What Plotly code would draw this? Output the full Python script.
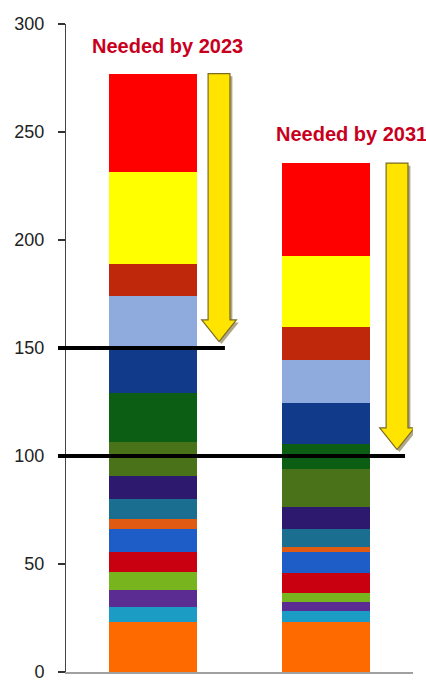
import plotly.graph_objects as go

# ---- data ----
categories = ["2023", "2031"]
segment_names = ["s1", "s2", "s3", "s4", "s5", "s6", "s7", "s8", "s9", "s10",
                 "s11", "s12", "s13", "s14", "s15", "s16"]
values_2023 = [23.3, 6.9, 7.8, 8.5, 9.1, 10.8, 4.3, 9.6, 10.3, 15.7,
               22.7, 21.0, 24.0, 15.1, 42.4, 45.5]
values_2031 = [23.3, 5.0, 4.2, 4.3, 9.0, 9.6, 2.3, 8.7, 10.2, 17.3,
               11.5, 19.3, 19.7, 15.4, 32.7, 43.1]
segment_colors = ["#ff6a00", "#1a9cc4", "#5b2c92", "#78b41e", "#c80010", "#1e5cc8",
                  "#e05a14", "#1a6f90", "#2d1a6e", "#4a7319", "#0b5e14", "#113a8a",
                  "#8faadc", "#c0280c", "#ffff00", "#ff0000"]
targets = [150, 100]
target_labels = ["Needed by 2023", "Needed by 2031"]
y_ticks = [0, 50, 100, 150, 200, 250, 300]
y_max = 300

fig = go.Figure()
for i, name in enumerate(segment_names):
    fig.add_trace(go.Bar(
        x=[0, 1], y=[values_2023[i], values_2031[i]], name=name,
        marker=dict(color=segment_colors[i], line=dict(width=0)),
        width=0.505, hoverinfo="skip", showlegend=False))

totals = [sum(values_2023), sum(values_2031)]

shapes = []
# target lines (extend slightly left of the axis)
line_ends = [0.458, 0.977]
for t, xe in zip(targets, line_ends):
    shapes.append(dict(type="line", xref="paper", yref="y domain",
                       x0=-0.023, x1=xe, y0=t / y_max, y1=t / y_max,
                       line=dict(color="black", width=4), layer="above"))

# down arrows from the bar top to the target
arrow_dx = [0.382, 0.408]
for k in range(2):
    cx = k + arrow_dx[k]
    top = totals[k]
    tip = targets[k] + 3
    head = tip + 10
    sw, hw = 0.063, 0.1

    def path(ox, oy):
        pts = [(cx - sw + ox, top + oy), (cx + sw + ox, top + oy),
               (cx + sw + ox, head + oy), (cx + hw + ox, head + oy),
               (cx + ox, tip + oy), (cx - hw + ox, head + oy),
               (cx - sw + ox, head + oy)]
        return "M " + " L ".join(f"{x},{y}" for x, y in pts) + " Z"

    shapes.append(dict(type="path", xref="x", yref="y", path=path(0.014, -1.2),
                       fillcolor="rgba(110,95,40,0.55)", line=dict(width=0),
                       layer="above"))
    shapes.append(dict(type="path", xref="x", yref="y", path=path(0, 0),
                       fillcolor="#ffe400", line=dict(color="#7a6a24", width=1.2),
                       layer="above"))

annotations = []
label_pos = [(0.085, 290), (1.143, 249)]
for (ax_, ay_), txt in zip(label_pos, target_labels):
    annotations.append(dict(x=ax_, y=ay_, xref="x", yref="y", text=txt,
                            showarrow=False, xanchor="center", yanchor="middle",
                            font=dict(family="Liberation Sans, Arial, sans-serif",
                                      size=20, color="#c8001e", weight="bold")))

fig.update_layout(
    barmode="stack",
    width=426, height=682,
    margin=dict(l=66, r=13, t=24, b=10, autoexpand=False),
    paper_bgcolor="white", plot_bgcolor="white",
    shapes=shapes, annotations=annotations,
    xaxis=dict(range=[-0.5, 1.5], showticklabels=False, ticks="", showgrid=False,
               zeroline=False, showline=True, linecolor="#a0a0a0", linewidth=2,
               automargin=False),
    yaxis=dict(range=[0, y_max], tickvals=y_ticks, ticks="outside", ticklen=7,
               tickcolor="#333", tickwidth=1.5, showgrid=False, zeroline=False,
               showline=True, linecolor="#444", linewidth=1, automargin=False,
               ticklabelstandoff=10, ticklabeloverflow="allow",
               tickfont=dict(family="Liberation Sans, Arial, sans-serif",
                             size=18, color="#222")),
)

fig.write_html("out.html")
